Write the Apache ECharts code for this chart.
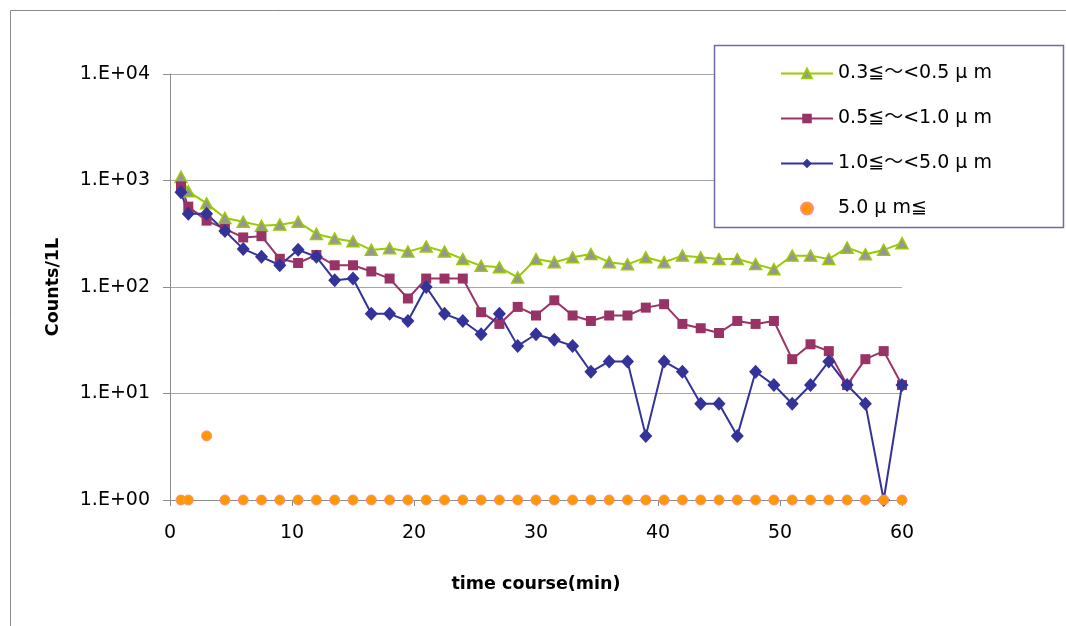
<!DOCTYPE html>
<html>
<head>
<meta charset="utf-8">
<script src="https://cdn.jsdelivr.net/npm/echarts@6/dist/echarts.min.js"></script>
<style>html,body{margin:0;padding:0;background:#fff}#c{width:1066px;height:626px}</style>
</head>
<body>
<div id="c"></div>
<script>
const seriesNames = ['0.3≦〜<0.5 μ m', '0.5≦〜<1.0 μ m', '1.0≦〜<5.0 μ m', '5.0 μ m≦'];
const times = [0.9, 1.5, 3, 4.5, 6, 7.5, 9, 10.5, 12, 13.5, 15, 16.5, 18, 19.5, 21, 22.5, 24, 25.5, 27, 28.5, 30,
  31.5, 33, 34.5, 36, 37.5, 39, 40.5, 42, 43.5, 45, 46.5, 48, 49.5, 51, 52.5, 54, 55.5, 57, 58.5, 60, 61.5];
const green = [1080, 790, 610, 445, 410, 375, 385, 410, 315, 285, 268, 223, 231, 215, 240, 215, 183, 158, 153, 123, 183,
  171, 190, 204, 171, 163, 190, 171, 197, 190, 183, 183, 164, 147, 197, 197, 183, 234, 203, 223, 258, 240];
const red = [880, 568, 420, 352, 292, 300, 184, 168, 200, 160, 160, 140, 120, 78, 120, 120, 120, 58, 45, 65, 54,
  75, 54, 48, 54, 54, 64, 69, 45, 41, 37, 48, 45, 48, 21, 29, 25, 12, 21, 25, 12, 28];
const blue = [776, 488, 488, 336, 228, 192, 160, 224, 192, 116, 120, 56, 56, 48, 100, 56, 48, 36, 56, 28, 36,
  32, 28, 16, 20, 20, 4, 20, 16, 8, 8, 4, 16, 12, 8, 12, 20, 12, 8, 1, 12, 4];
const orange = [1, 1, 4, 1, 1, 1, 1, 1, 1, 1, 1, 1, 1, 1, 1, 1, 1, 1, 1, 1, 1,
  1, 1, 1, 1, 1, 1, 1, 1, 1, 1, 1, 1, 1, 1, 1, 1, 1, 1, 1, 1];
const xTicks = [0, 10, 20, 30, 40, 50, 60];
const yTicks = [1, 10, 100, 1000, 10000];

const FONT = '"DejaVu Sans", "Noto Sans CJK JP", sans-serif';
const pairs = vals => vals.map((v, i) => [times[i], v]);

const chart = echarts.init(document.getElementById('c'), null, {renderer: 'canvas'});
chart.setOption({
  animation: false,
  backgroundColor: '#ffffff',
  grid: {left: 170, right: 164, top: 74, bottom: 126},
  xAxis: {
    type: 'value', min: xTicks[0], max: xTicks[xTicks.length - 1], interval: 10,
    name: 'time course(min)', nameLocation: 'middle', nameGap: 76,
    nameTextStyle: {fontFamily: FONT, fontWeight: 'bold', fontSize: 17.5, color: '#000'},
    axisLine: {lineStyle: {color: '#8c8c8c', width: 1}},
    axisTick: {show: true, length: 6, lineStyle: {color: '#8c8c8c'}},
    axisLabel: {margin: 24, fontFamily: FONT, fontSize: 19, color: '#000'},
    splitLine: {show: false}
  },
  yAxis: {
    type: 'log', logBase: 10, min: yTicks[0], max: yTicks[yTicks.length - 1],
    name: 'Counts/1L', nameLocation: 'middle', nameGap: 108, nameRotate: 90,
    nameTextStyle: {fontFamily: FONT, fontWeight: 'bold', fontSize: 17.5, color: '#000'},
    axisLine: {show: true, lineStyle: {color: '#8c8c8c', width: 1}},
    axisTick: {show: true, length: 7, lineStyle: {color: '#8c8c8c'}},
    axisLabel: {
      margin: 20, fontFamily: FONT, fontSize: 19, color: '#000',
      formatter: v => '1.E+' + String(Math.round(Math.log10(v))).padStart(2, '0')
    },
    splitLine: {show: true, lineStyle: {color: '#a6a6a6', width: 1}}
  },
  legend: {
    orient: 'vertical', left: 780, top: 64, padding: 0, itemWidth: 52, itemHeight: 12, itemGap: 26,
    textStyle: {fontFamily: FONT, fontSize: 19, color: '#000', lineHeight: 18},
    data: seriesNames, z: 6
  },
  graphic: [
    {type: 'rect', silent: true, z: -10, shape: {x: 10.5, y: 10.5, width: 1200, height: 800},
     style: {fill: 'none', stroke: '#8a8a8a', lineWidth: 1}},
    {type: 'rect', silent: true, z: 3, shape: {x: 714.5, y: 45.5, width: 349, height: 182},
     style: {fill: '#ffffff', stroke: '#6b6ba8', lineWidth: 1.5}}
  ],
  series: [
    {name: seriesNames[0], type: 'line', data: pairs(green), symbol: 'triangle', symbolSize: [12, 11],
     itemStyle: {color: '#969696', borderColor: '#99cc00', borderWidth: 1.5},
     lineStyle: {color: '#99cc00', width: 2}, clip: true, z: 2},
    {name: seriesNames[1], type: 'line', data: pairs(red), symbol: 'rect', symbolSize: 10,
     itemStyle: {color: '#993366'}, lineStyle: {color: '#993366', width: 2}, clip: true, z: 2},
    {name: seriesNames[2], type: 'line', data: pairs(blue), symbol: 'diamond', symbolSize: [13, 14],
     itemStyle: {color: '#333399'}, lineStyle: {color: '#333399', width: 2}, clip: true, z: 2},
    {name: seriesNames[3], type: 'scatter', data: pairs(orange), symbol: 'circle', symbolSize: 10,
     itemStyle: {color: '#ff9900', borderColor: '#ff8c8c', borderWidth: 1, opacity: 1}, clip: false, z: 2}
  ]
});
</script>
</body>
</html>
